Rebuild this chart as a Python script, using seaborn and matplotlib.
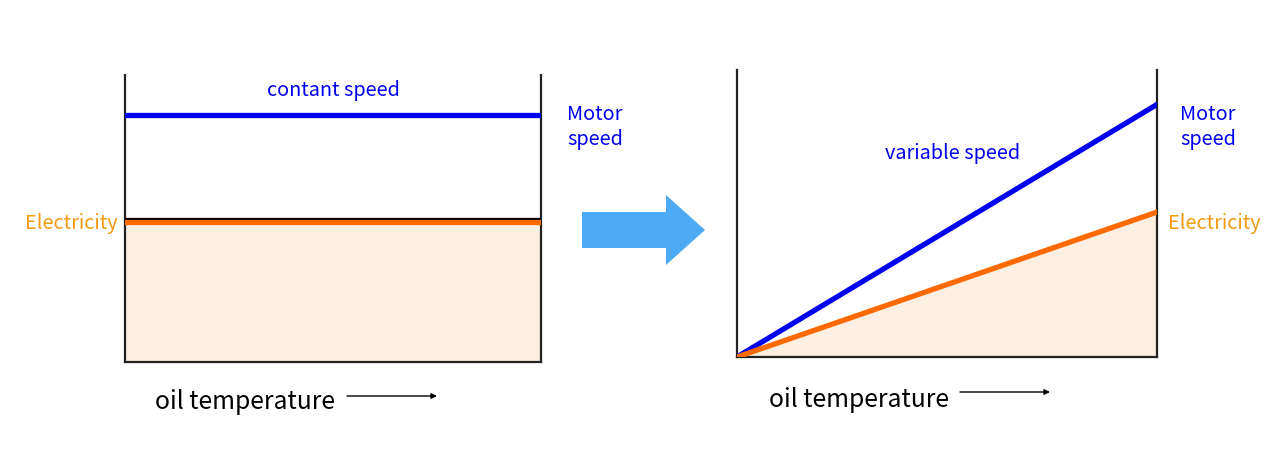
import matplotlib
matplotlib.use("Agg")
import matplotlib.pyplot as plt
import matplotlib.patheffects as pe
from matplotlib.patches import FancyArrow
import seaborn as sns
import pandas as pd

sns.set_theme(style="white")
plt.rcParams['font.family'] = ['Noto Sans CJK SC', 'DejaVu Sans']
plt.rcParams['font.weight'] = 'medium'

# ---- data ----
temperature = [0.0, 1.0]
const_motor = [0.862, 0.862]
const_elec = [0.487, 0.487]
var_motor = [0.0, 0.88]
var_elec = [0.0, 0.505]

BLUE = "#0000F0"
ORANGE_LINE = "#FF6A00"
ORANGE_TXT = "#F39A10"
FILL = "#FDEFE1"
ARROW = "#4DABF5"

fig = plt.figure(figsize=(12.8, 4.6), dpi=100)

def style_ax(ax):
    ax.set_xlim(0, 1)
    ax.set_ylim(0, 1)
    ax.set_xticks([])
    ax.set_yticks([])
    ax.set_xlabel("")
    ax.set_ylabel("")
    ax.spines['top'].set_visible(False)
    for s in ['left', 'right', 'bottom']:
        ax.spines[s].set_color("#222222")
        ax.spines[s].set_linewidth(1.6)
    ax.set_facecolor("none")

LW = 3.8

# left panel
axL = fig.add_axes([125/1280, 97/460, 416/1280, 287/460])
dfL = pd.DataFrame({"t": temperature, "motor": const_motor, "elec": const_elec})
axL.fill_between(dfL["t"], 0, dfL["elec"], color=FILL, lw=0, zorder=1)
sns.lineplot(data=dfL, x="t", y="motor", ax=axL, color=BLUE, lw=LW, zorder=3)
sns.lineplot(data=dfL, x="t", y="elec", ax=axL, color=ORANGE_LINE, lw=LW, zorder=3,
             path_effects=[pe.SimpleLineShadow(offset=(0, 1.6), shadow_color="black",
                                               alpha=1, linewidth=LW), pe.Normal()])
style_ax(axL)
axL.text(0.5, 0.948, "contant speed", color=BLUE, fontsize=14.3, ha="center", va="center",
         transform=axL.transAxes)

# right panel
axR = fig.add_axes([737/1280, 102/460, 420/1280, 287/460])
dfR = pd.DataFrame({"t": temperature, "motor": var_motor, "elec": var_elec})
axR.fill_between(dfR["t"], 0, dfR["elec"], color=FILL, lw=0, zorder=1)
sns.lineplot(data=dfR, x="t", y="motor", ax=axR, color=BLUE, lw=LW, zorder=3)
sns.lineplot(data=dfR, x="t", y="elec", ax=axR, color=ORANGE_LINE, lw=LW, zorder=3)
style_ax(axR)
axR.text(0.514, 0.712, "variable speed", color=BLUE, fontsize=14.3, ha="center", va="center",
         transform=axR.transAxes)

# overlay for labels in pixel coords
ov = fig.add_axes([0, 0, 1, 1])
ov.set_xlim(0, 1280)
ov.set_ylim(460, 0)
ov.axis("off")
ov.set_facecolor("none")

kw = dict(fontsize=14.3, va="center")
ov.text(567, 127, "Motor\nspeed", color=BLUE, ha="left", linespacing=1.22, **kw)
ov.text(1180, 127, "Motor\nspeed", color=BLUE, ha="left", linespacing=1.22, **kw)
ov.text(71, 224, "Electricity", color=ORANGE_TXT, ha="center", **kw)
ov.text(1214, 224, "Electricity", color=ORANGE_TXT, ha="center", **kw)

ov.text(155, 402, "oil temperature", color="black", fontsize=17.8, ha="left", va="center")
ov.text(769, 400, "oil temperature", color="black", fontsize=17.8, ha="left", va="center")
for x0, x1, y in [(347, 437, 397), (960, 1050, 393)]:
    ov.annotate("", xy=(x1, y), xytext=(x0, y),
                arrowprops=dict(arrowstyle="-|>", color="black", lw=1.0,
                                mutation_scale=8, shrinkA=0, shrinkB=0))

ov.add_patch(FancyArrow(582, 231, 123, 0, width=36, head_width=70, head_length=39,
                        length_includes_head=True, color=ARROW, lw=0))

fig.savefig("out.png", dpi=100)
